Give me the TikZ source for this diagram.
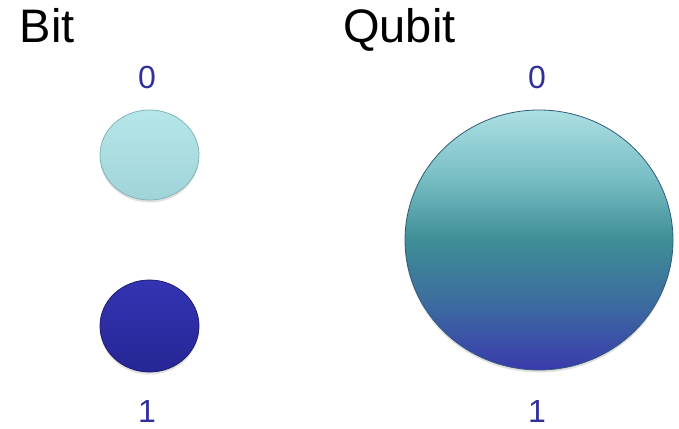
\documentclass[tikz,border=0pt]{standalone}
\usepackage{fontspec}
\setmainfont{Liberation Sans}
\usetikzlibrary{shapes.geometric,shadows}
\definecolor{digitblue}{RGB}{48,48,155}
\definecolor{qtop}{RGB}{172,224,228}
\definecolor{qtopmid}{RGB}{120,190,196}
\definecolor{qmid}{RGB}{62,142,150}
\definecolor{qlowmid}{RGB}{60,105,160}
\definecolor{qbot}{RGB}{58,58,172}
\definecolor{ltop}{RGB}{182,230,234}
\definecolor{lbot}{RGB}{160,212,216}
\definecolor{dtop}{RGB}{52,52,178}
\definecolor{dbot}{RGB}{38,38,150}
\pgfdeclareverticalshading{qubitshade}{100bp}{color(0bp)=(qbot); color(25bp)=(qbot); color(37bp)=(qlowmid); color(50bp)=(qmid); color(62bp)=(qtopmid); color(75bp)=(qtop); color(100bp)=(qtop)}
\pgfdeclareverticalshading{zeroshade}{100bp}{color(0bp)=(lbot); color(25bp)=(lbot); color(75bp)=(ltop); color(100bp)=(ltop)}
\pgfdeclareverticalshading{oneshade}{100bp}{color(0bp)=(dbot); color(25bp)=(dbot); color(75bp)=(dtop); color(100bp)=(dtop)}
\tikzset{
  title/.style={font=\fontsize{47}{50}\selectfont, text=black, inner sep=0pt, anchor=base west},
  digit/.style={font=\fontsize{32}{34}\selectfont, text=digitblue, inner sep=0pt, anchor=base},
  bead/.style={ellipse, inner sep=0pt, line width=0.8pt,
    drop shadow={shadow xshift=0pt, shadow yshift=-2.5pt, opacity=0.12, fill=black}},
}
\begin{document}
\begin{tikzpicture}[x=1pt,y=1pt]
\useasboundingbox (0,0) rectangle (679,428);
\node[title] (bit) at (19.5,385.5) {Bit};
\node[title] (qubit) at (343,385.5) {Qubit};
\node[digit] (b0) at (147,339) {0};
\node[digit] (b1) at (147,6) {1};
\node[digit] (q0) at (537,339) {0};
\node[digit] (q1) at (537,6) {1};
\node[bead, minimum width=99pt, minimum height=90pt, shading=zeroshade, draw={rgb,255:red,130;green,180;blue,184}] (zero) at (149.5,273) {};
\node[bead, minimum width=99pt, minimum height=92pt, shading=oneshade, draw={rgb,255:red,30;green,30;blue,110}] (one) at (149.5,102) {};
\node[bead, minimum width=268pt, minimum height=260pt, shading=qubitshade, draw={rgb,255:red,50;green,90;blue,120}] (qb) at (539,188) {};
\end{tikzpicture}
\end{document}
